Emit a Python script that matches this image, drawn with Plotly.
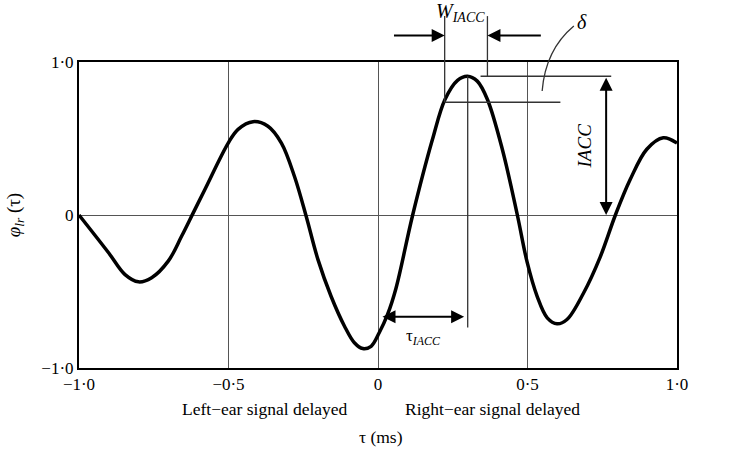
import plotly.graph_objects as go

# ---- data ----
tau = [-1.0, -0.901, -0.846, -0.801, -0.757, -0.701, -0.657, -0.618, -0.579,
       -0.501, -0.468, -0.418, -0.368, -0.323, -0.279, -0.24, -0.201, -0.157, -0.112,
       -0.079, -0.051, -0.023, 0.004, 0.032, 0.06, 0.116, 0.182, 0.224,
       0.266, 0.299, 0.332, 0.366, 0.416, 0.466, 0.499, 0.532, 0.566, 0.599,
       0.632, 0.688, 0.743, 0.794, 0.843, 0.899, 0.954, 1.0]
phi = [0.0, -0.247, -0.39, -0.437, -0.41, -0.30, -0.139, 0.014, 0.167,
       0.47, 0.56, 0.61, 0.58, 0.47, 0.25, -0.01, -0.29, -0.531, -0.727,
       -0.835, -0.873, -0.858, -0.77, -0.65, -0.48, 0.0, 0.493, 0.755,
       0.88, 0.907, 0.875, 0.755, 0.428, 0.0, -0.31, -0.53, -0.672, -0.711,
       -0.683, -0.508, -0.275, 0.0, 0.23, 0.43, 0.505, 0.47]

x_ticks = [-1.0, -0.5, 0, 0.5, 1.0]
x_ticktext = ["\u22121\u00b70", "\u22120\u00b75", "0", "0\u00b75", "1\u00b70"]
y_ticks = [-1.0, 0, 1.0]
y_ticktext = ["\u22121\u00b70", "0", "1\u00b70"]

tau_iacc = 0.3        # position of peak
iacc = 0.907          # peak value
w_left, w_right = 0.223, 0.366   # width at delta level
delta_level = 0.737

XR = [-1.0, 1.0]
YR = [-1.0, 1.0]
FONT = "Liberation Serif"
W, H = 752, 461
ML, MR, MT, MB = 77, 75, 62, 93
PW, PH = W - ML - MR, H - MT - MB


def xp(x):
    return (x - XR[0]) / (XR[1] - XR[0])


def yp(y):
    return (y - YR[0]) / (YR[1] - YR[0])


fig = go.Figure()
fig.add_trace(go.Scatter(x=tau, y=phi, mode="lines",
                         line=dict(color="black", width=3.5, shape="spline", smoothing=1.0),
                         hoverinfo="skip", showlegend=False))

LC = "#333333"
shapes = []
# W_IACC vertical lines (extend above plot)
shapes.append(dict(type="line", xref="paper", yref="paper",
                   x0=xp(w_left), x1=xp(w_left), y0=yp(1.3), y1=yp(delta_level),
                   line=dict(color=LC, width=1.3)))
shapes.append(dict(type="line", xref="paper", yref="paper",
                   x0=xp(w_right), x1=xp(w_right), y0=yp(1.3), y1=yp(iacc),
                   line=dict(color=LC, width=1.3)))
# horizontal lines at peak and delta level
shapes.append(dict(type="line", xref="x", yref="y",
                   x0=0.343, x1=0.78, y0=iacc, y1=iacc, line=dict(color=LC, width=1.3)))
shapes.append(dict(type="line", xref="x", yref="y",
                   x0=w_left, x1=0.61, y0=delta_level, y1=delta_level,
                   line=dict(color=LC, width=1.3)))
# vertical line at tau_IACC
shapes.append(dict(type="line", xref="x", yref="y",
                   x0=tau_iacc, x1=tau_iacc, y0=iacc, y1=-0.735,
                   line=dict(color=LC, width=1.3)))
# delta leader curve
shapes.append(dict(type="path", xref="paper", yref="paper",
                   path="M %f,%f Q %f,%f %f,%f" % (xp(0.655), yp(1.235), xp(0.56), yp(1.08),
                                                   xp(0.549), yp(0.81)),
                   line=dict(color=LC, width=1.3)))

annotations = []
arrow_common = dict(showarrow=True, arrowcolor="black", arrowwidth=2,
                    arrowhead=2, arrowsize=1.3, text="", axref="x", ayref="y",
                    xref="x", yref="y")
# W arrows (above the plot area -> paper coordinates, pixel tails)
w_arrow_y = 1.173
annotations.append(dict(x=xp(w_left), y=yp(w_arrow_y), xref="paper", yref="paper",
                        ax=-(w_left - 0.049) * PW / 2, ay=0, showarrow=True, text="",
                        arrowcolor="black", arrowwidth=2, arrowhead=2, arrowsize=1.3))
annotations.append(dict(x=xp(w_right), y=yp(w_arrow_y), xref="paper", yref="paper",
                        ax=(0.549 - w_right) * PW / 2, ay=0, showarrow=True, text="",
                        arrowcolor="black", arrowwidth=2, arrowhead=2, arrowsize=1.3))
# IACC double arrow
annotations.append(dict(x=0.763, y=0.0, ax=0.763, ay=iacc, arrowside="end+start", **arrow_common))
# tau_IACC double arrow
annotations.append(dict(x=tau_iacc - 0.012, y=-0.665, ax=0.01, ay=-0.665,
                        arrowside="end+start", **arrow_common))


def label(x, y, text, size, data=False, **kw):
    if data:
        xr, yr = "x", "y"
    else:
        x, y = xp(x), yp(y)
        xr, yr = "paper", "paper"
    d = dict(x=x, y=y, text=text, showarrow=False, xref=xr, yref=yr,
             xanchor="center", yanchor="middle",
             font=dict(family=FONT, size=size, color="black"))
    d.update(kw)
    annotations.append(d)


label(0.277, 1.325, "<i>W</i><sub><i>IACC</i></sub>", 20)
label(0.683, 1.26, "<i>\u03b4</i>", 20)
label(0.69, 0.45, "<i>IACC</i>", 19, data=True, textangle=-90)
label(0.153, -0.80, "\u03c4<sub><i>IACC</i></sub>", 17, data=True)
label(-0.377, -1.27, "Left\u2212ear signal delayed", 17.5)
label(0.383, -1.27, "Right\u2212ear signal delayed", 17.5)
label(0.01, -1.45, "\u03c4 (ms)", 17.5)

fig.update_layout(
    width=W, height=H,
    margin=dict(l=ML, r=MR, t=MT, b=MB),
    paper_bgcolor="white", plot_bgcolor="white",
    shapes=shapes, annotations=annotations,
    showlegend=False,
    font=dict(family=FONT, size=17, color="black"),
    xaxis=dict(range=XR, tickvals=x_ticks, ticktext=x_ticktext, showgrid=True,
               gridcolor="#555555", gridwidth=1, zeroline=False,
               showline=True, linecolor="black", linewidth=2, mirror=True,
               ticks="", tickfont=dict(family=FONT, size=17)),
    yaxis=dict(range=YR, tickvals=y_ticks, ticktext=y_ticktext, showgrid=True,
               gridcolor="#555555", gridwidth=1, zeroline=False,
               showline=True, linecolor="black", linewidth=2, mirror=True,
               ticks="", tickfont=dict(family=FONT, size=17),
               title=dict(text="<i>\u03c6</i><sub><i>lr</i></sub> (\u03c4)",
                          font=dict(family=FONT, size=19), standoff=16)),
)

fig.write_html("out.html")
